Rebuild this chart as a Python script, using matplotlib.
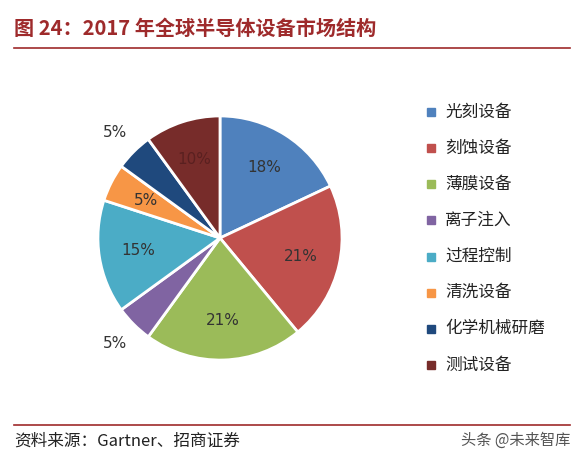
import matplotlib
matplotlib.use("Agg")
import matplotlib.pyplot as plt
from matplotlib.lines import Line2D
import numpy as np

plt.rcParams['font.family'] = ['Noto Sans CJK SC', 'DejaVu Sans']

categories = ["光刻设备", "刻蚀设备", "薄膜设备", "离子注入", "过程控制", "清洗设备", "化学机械研磨", "测试设备"]
values = [18, 21, 21, 5, 15, 5, 5, 10]
labels = ["18%", "21%", "21%", "5%", "15%", "5%", "5%", "10%"]
colors = ["#4F81BD", "#C0504D", "#9BBB59", "#8064A2", "#4BACC6", "#F79646", "#1F497D", "#772C2A"]
outside = [False, False, False, True, False, False, True, False]

W, H = 583, 459
fig = plt.figure(figsize=(W/100, H/100), dpi=100)
fig.patch.set_facecolor("white")

cx, cy, r = 220, 238, 122
ax = fig.add_axes([(cx-r-2)/W, 1-(cy+r+2)/H, (2*r+4)/W, (2*r+4)/H])
wedges, _ = ax.pie(values, colors=colors, startangle=90, counterclock=False,
                   wedgeprops=dict(edgecolor="white", linewidth=2), radius=1.0)
ax.set_xlim(-1.016, 1.016); ax.set_ylim(-1.016, 1.016)
ax.set_aspect("equal"); ax.axis("off")
for w, lab, out in zip(wedges, labels, outside):
    ang = np.deg2rad((w.theta1 + w.theta2) / 2)
    d = 1.22 if out else 0.68
    ax.text(d*np.cos(ang), d*np.sin(ang), lab, ha="center", va="center",
            fontsize=11, color="#333333" if out or lab != "10%" else "#5a2020",
            family=['DejaVu Sans'], clip_on=False)

ys = np.linspace(112, 365, len(categories))
for c, name, y in zip(colors, categories, ys):
    fig.patches.append(plt.Rectangle(((431-4)/W, 1-(y+4)/H), 8/W, 8/H, color=c, transform=fig.transFigure))
    fig.text(445/W, 1-y/H, name, fontsize=12, va="center", ha="left", color="#222222")

fig.text(14/W, 1-28/H, "图 24：2017 年全球半导体设备市场结构", fontsize=14.5, fontweight="bold",
         color="#9E2A2B", va="center", ha="left")
fig.add_artist(Line2D([14/W, 570/W], [1-48/H, 1-48/H], color="#9E2A2B", lw=1.2))
fig.add_artist(Line2D([14/W, 570/W], [1-425/H, 1-425/H], color="#9E2A2B", lw=1.2))
fig.text(14/W, 1-441/H, "资料来源：Gartner、招商证券", fontsize=12, va="center", ha="left", color="#222222")
fig.text(570/W, 1-440/H, "头条 @未来智库", fontsize=11, va="center", ha="right", color="#555555")

fig.savefig("out.png", dpi=100)
